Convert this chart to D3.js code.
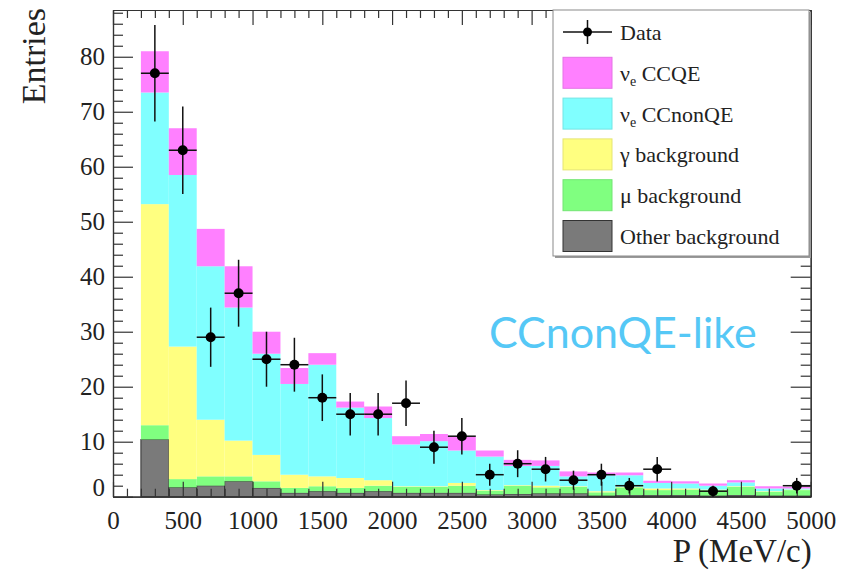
<!DOCTYPE html>
<html>
<head>
<meta charset="utf-8">
<script src="https://cdn.jsdelivr.net/npm/d3@7"></script>
<style>
  body { margin: 0; background: #ffffff; }
  svg { display: block; }
</style>
</head>
<body>
<svg id="chart" width="850" height="571"></svg>
<script>
// Reconstructed momentum distribution, 200 MeV/c bins from 200 to 5000 MeV/c
const binLow = [200, 400, 600, 800, 1000, 1200, 1400, 1600, 1800, 2000, 2200, 2400,
                2600, 2800, 3000, 3200, 3400, 3600, 3800, 4000, 4200, 4400, 4600, 4800];
const binWidth = 200;

// Per-bin expected contributions (stacked bottom to top)
const otherBkg   = [10.4, 1.7, 2.0, 2.8, 1.6, 0.7, 1.0, 0.7, 1.0, 0.7, 0.7, 0.7,
                    0.4, 0.5, 0.6, 0.6, 0.2, 0.3, 0.3, 0.3, 0.2, 0.3, 0.2, 0.2];
const muBkg      = [2.6, 1.5, 1.7, 0.9, 1.2, 0.9, 0.9, 0.9, 1.0, 1.1, 1.1, 1.3,
                    0.7, 1.5, 1.1, 1.2, 0.6, 1.4, 0.9, 1.0, 1.0, 1.5, 0.7, 1.0];
const gammaBkg   = [40.2, 24.1, 10.3, 6.5, 4.8, 2.4, 1.8, 1.8, 1.0, 0.1, 0.1, 0.5,
                    0.1, 0.1, 0.3, 0.1, 0.2, 0.1, 0.3, 0.2, 0.1, 0.1, 0.1, 0.1];
const nueCCnonQE = [20.3, 31.2, 27.9, 24.2, 18.4, 16.5, 20.3, 12.8, 11.3, 7.6, 8.2, 5.9,
                    6.1, 3.5, 3.6, 1.8, 2.9, 2.1, 1.0, 0.9, 0.7, 0.7, 0.5, 0.2];
const nueCCQE    = [7.5, 8.5, 6.8, 7.5, 4.0, 2.9, 2.1, 1.1, 2.1, 1.5, 1.3, 2.5,
                    1.1, 1.1, 1.0, 0.9, 0.5, 0.5, 0.4, 0.4, 0.4, 0.4, 0.4, 0.3];

// Observed entries per bin (empty bins are not drawn)
const dataCounts = [77, 63, 29, 37, 25, 24, 18, 15, 15, 17, 9, 11,
                    4, 6, 5, 3, 4, 2, 5, 0, 1, 0, 0, 2];

const xTicks = [0, 500, 1000, 1500, 2000, 2500, 3000, 3500, 4000, 4500, 5000];
const yTicks = [0, 10, 20, 30, 40, 50, 60, 70, 80];

const seriesKeys   = ["other", "mu", "gamma", "ccnonqe", "ccqe"];
const seriesColors = ["#7a7a7a", "#80ff80", "#ffff80", "#80ffff", "#ff80ff"];

const margin = { top: 10, right: 39.3, bottom: 74.3, left: 113 };
const W = 850, H = 571;
const innerW = W - margin.left - margin.right;
const innerH = H - margin.top - margin.bottom;

const svg = d3.select("#chart");
const g = svg.append("g").attr("transform", `translate(${margin.left},${margin.top})`);

const x = d3.scaleLinear().domain([0, 5000]).range([0, innerW]);
const y = d3.scaleLinear().domain([0, 88.5]).range([innerH, 0]);

// Stack the expected contributions
const rows = binLow.map((lo, i) => ({
  lo,
  other: otherBkg[i], mu: muBkg[i], gamma: gammaBkg[i],
  ccnonqe: nueCCnonQE[i], ccqe: nueCCQE[i]
}));
const stacked = d3.stack().keys(seriesKeys)(rows);

const layers = g.append("g").attr("class", "stack");
stacked.forEach((layer, k) => {
  layers.append("g")
    .selectAll("rect")
    .data(layer)
    .join("rect")
      .attr("x", d => x(d.data.lo))
      .attr("width", d => x(d.data.lo + binWidth) - x(d.data.lo))
      .attr("y", d => y(d[1]))
      .attr("height", d => y(d[0]) - y(d[1]))
      .attr("fill", seriesColors[k])
      .attr("stroke", k === 0 ? "#333" : "none")
      .attr("stroke-width", k === 0 ? 1 : 0);
});

// Frame ticks (inward ticks on all four sides)
const tickColor = "#333";
const serif = "'Liberation Serif', 'Times New Roman', serif";
const xMinor = d3.range(0, 5001, 100).filter(v => v % 500 !== 0);
const yMinor = d3.range(0, 89, 2).filter(v => v % 10 !== 0);

function styleAxis(sel) {
  sel.selectAll("path.domain").attr("stroke", tickColor).attr("stroke-width", 1.2);
  sel.selectAll(".tick line").attr("stroke", tickColor).attr("stroke-width", 1.2);
  sel.selectAll("text").attr("font-family", serif).attr("font-size", 25).attr("fill", "#222");
}

const axes = g.append("g").attr("class", "axes");

axes.append("g").attr("transform", `translate(0,${innerH})`)
  .call(d3.axisBottom(x).tickValues(xMinor).tickSizeInner(-8).tickSizeOuter(0).tickFormat(""))
  .call(styleAxis);
axes.append("g").attr("transform", `translate(0,${innerH})`)
  .call(d3.axisBottom(x).tickValues(xTicks).tickSizeInner(-15).tickSizeOuter(0).tickPadding(15)
        .tickFormat(d3.format("d")))
  .call(styleAxis);

axes.append("g")
  .call(d3.axisTop(x).tickValues(xMinor).tickSizeInner(-8).tickSizeOuter(0).tickFormat(""))
  .call(styleAxis);
axes.append("g")
  .call(d3.axisTop(x).tickValues(xTicks).tickSizeInner(-15).tickSizeOuter(0).tickFormat(""))
  .call(styleAxis);

axes.append("g")
  .call(d3.axisLeft(y).tickValues(yMinor).tickSizeInner(-10).tickSizeOuter(0).tickFormat(""))
  .call(styleAxis);
const yAxisG = axes.append("g")
  .call(d3.axisLeft(y).tickValues(yTicks).tickSizeInner(-20).tickSizeOuter(0).tickPadding(8)
        .tickFormat(d3.format("d")))
  .call(styleAxis);
// lift the zero label clear of the x-axis labels
yAxisG.selectAll(".tick").filter(d => d === 0).select("text").attr("dy", "-0.05em");

axes.append("g").attr("transform", `translate(${innerW},0)`)
  .call(d3.axisRight(y).tickValues(yMinor).tickSizeInner(-10).tickSizeOuter(0).tickFormat(""))
  .call(styleAxis);
axes.append("g").attr("transform", `translate(${innerW},0)`)
  .call(d3.axisRight(y).tickValues(yTicks).tickSizeInner(-20).tickSizeOuter(0).tickFormat(""))
  .call(styleAxis);

// Data points with Poisson errors
const points = binLow.map((lo, i) => ({ lo, n: dataCounts[i] })).filter(d => d.n > 0);
const dataG = g.append("g").attr("class", "data");
dataG.selectAll("line.h").data(points).join("line")
  .attr("x1", d => x(d.lo)).attr("x2", d => x(d.lo + binWidth))
  .attr("y1", d => y(d.n)).attr("y2", d => y(d.n))
  .attr("stroke", "#111").attr("stroke-width", 1.5);
dataG.selectAll("line.v").data(points).join("line")
  .attr("x1", d => x(d.lo + binWidth / 2)).attr("x2", d => x(d.lo + binWidth / 2))
  .attr("y1", d => y(d.n + Math.sqrt(d.n))).attr("y2", d => y(Math.max(0, d.n - Math.sqrt(d.n))))
  .attr("stroke", "#111").attr("stroke-width", 1.5);
dataG.selectAll("circle").data(points).join("circle")
  .attr("cx", d => x(d.lo + binWidth / 2)).attr("cy", d => y(d.n))
  .attr("r", 5).attr("fill", "#000");

// Axis titles
svg.append("text")
  .attr("x", margin.left + innerW + 1).attr("y", 562)
  .attr("text-anchor", "end")
  .attr("font-family", serif).attr("font-size", 33).attr("fill", "#222")
  .text("P (MeV/c)");

svg.append("text")
  .attr("transform", `translate(45,${margin.top - 2}) rotate(-90)`)
  .attr("text-anchor", "end")
  .attr("font-family", serif).attr("font-size", 34).attr("fill", "#222")
  .text("Entries");

// Sample label
svg.append("text")
  .attr("x", 489).attr("y", 348)
  .attr("font-family", "Lato, 'Open Sans', sans-serif").attr("font-size", 43)
  .attr("fill", "#55c8f6")
  .text("CCnonQE-like");

// Legend
const legend = svg.append("g").attr("class", "legend");
const lgX = 553, lgY = 10, lgW = 256, lgH = 246;
legend.append("rect").attr("x", lgX + 2).attr("y", lgY + 2).attr("width", lgW).attr("height", lgH)
  .attr("fill", "#9a9a9a");
legend.append("rect").attr("x", lgX).attr("y", lgY).attr("width", lgW).attr("height", lgH)
  .attr("fill", "#fff").attr("stroke", "#8a8a8a").attr("stroke-width", 1);

const legendEntries = [
  { type: "data", label: ["Data"] },
  { type: "fill", color: seriesColors[4], label: ["ν", "e", " CCQE"] },
  { type: "fill", color: seriesColors[3], label: ["ν", "e", " CCnonQE"] },
  { type: "fill", color: seriesColors[2], label: ["γ background"] },
  { type: "fill", color: seriesColors[1], label: ["μ background"] },
  { type: "fill", color: seriesColors[0], label: ["Other background"] }
];
const rowY = d3.scalePoint().domain(d3.range(legendEntries.length)).range([32, 236]);
legendEntries.forEach((e, i) => {
  const cy = rowY(i);
  const row = legend.append("g");
  if (e.type === "data") {
    row.append("line").attr("x1", 563).attr("x2", 612).attr("y1", cy).attr("y2", cy)
      .attr("stroke", "#111").attr("stroke-width", 1.5);
    row.append("line").attr("x1", 587.5).attr("x2", 587.5).attr("y1", cy - 12).attr("y2", cy + 12)
      .attr("stroke", "#111").attr("stroke-width", 1.5);
    row.append("circle").attr("cx", 587.5).attr("cy", cy).attr("r", 4.5).attr("fill", "#000");
  } else {
    row.append("rect").attr("x", 563).attr("y", cy - 15.5).attr("width", 49).attr("height", 31)
      .attr("fill", e.color)
      .attr("stroke", i === 5 ? "#333" : d3.color(e.color).darker(0.3))
      .attr("stroke-width", 1);
  }
  const t = row.append("text").attr("x", 620).attr("y", cy + 8)
    .attr("font-family", serif).attr("font-size", 22).attr("fill", "#222");
  if (e.label.length === 3) {
    t.append("tspan").text(e.label[0]);
    t.append("tspan").attr("font-size", 14).attr("dy", 5).text(e.label[1]);
    t.append("tspan").attr("dy", -5).text(e.label[2]);
  } else {
    t.text(e.label[0]);
  }
});
</script>
</body>
</html>
